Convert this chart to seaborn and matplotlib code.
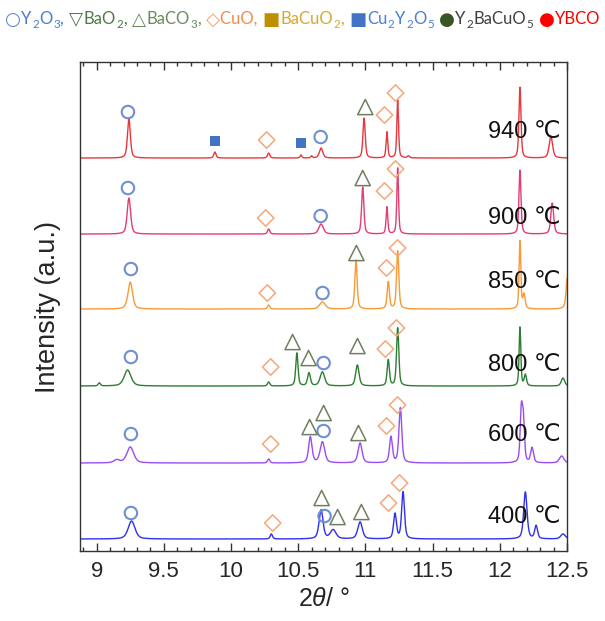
import numpy as np
import pandas as pd
import seaborn as sns
import matplotlib.pyplot as plt
from matplotlib.ticker import MultipleLocator, FormatStrFormatter
from matplotlib.transforms import IdentityTransform

# patterns, bottom to top
temps = ["400", "600", "800", "850", "900", "940"]
offsets = [12, 88, 165, 242, 317, 393]
line_colors = ["#2f2ff0", "#9a4cf2", "#2e7d32", "#f99a33", "#e43d6f", "#e8383d"]

# peak tables: 2theta, height above baseline, FWHM
pk_400 = [9.26, 10.30, 10.67, 10.76, 10.96, 11.22, 11.28, 12.19, 12.27, 12.47]
ht_400 = [18, 5, 29, 9, 17, 25, 47, 47, 13, 5]
wd_400 = [0.06, 0.02, 0.035, 0.05, 0.04, 0.025, 0.025, 0.03, 0.025, 0.04]

pk_600 = [9.15, 9.25, 10.28, 10.59, 10.68, 10.96, 11.19, 11.26, 12.16, 12.175, 12.24, 12.46]
ht_600 = [3, 16, 4, 26, 21, 20, 26, 55, 50, 40, 15, 7]
wd_600 = [0.05, 0.06, 0.02, 0.03, 0.04, 0.035, 0.025, 0.025, 0.02, 0.02, 0.025, 0.04]

pk_800 = [9.02, 9.23, 10.28, 10.49, 10.58, 10.68, 10.94, 11.17, 11.24, 12.15, 12.19, 12.47]
ht_800 = [3, 16, 4, 33, 13, 14, 21, 26, 58, 59, 11, 8]
wd_800 = [0.02, 0.06, 0.02, 0.02, 0.025, 0.04, 0.03, 0.02, 0.02, 0.015, 0.02, 0.03]

pk_850 = [9.25, 10.28, 10.68, 10.93, 11.17, 11.24, 12.15, 12.18, 12.505]
ht_850 = [27, 4, 7, 49, 27, 58, 68, 14, 35]
wd_850 = [0.04, 0.02, 0.05, 0.02, 0.02, 0.02, 0.015, 0.02, 0.025]

pk_900 = [9.24, 10.28, 10.67, 10.98, 11.16, 11.24, 12.15, 12.39]
ht_900 = [36, 5, 10, 47, 27, 66, 64, 31]
wd_900 = [0.03, 0.02, 0.04, 0.02, 0.015, 0.015, 0.018, 0.025]

pk_940 = [9.24, 9.88, 10.28, 10.52, 10.60, 10.67, 10.99, 11.16, 11.24, 11.32, 12.15, 12.38]
ht_940 = [40, 6, 5, 3, 2, 10, 40, 26, 58, 2, 71, 22]
wd_940 = [0.025, 0.02, 0.02, 0.015, 0.015, 0.03, 0.02, 0.015, 0.015, 0.02, 0.018, 0.03]

peak_tables = [(pk_400, ht_400, wd_400), (pk_600, ht_600, wd_600),
               (pk_800, ht_800, wd_800), (pk_850, ht_850, wd_850),
               (pk_900, ht_900, wd_900), (pk_940, ht_940, wd_940)]

# phase markers placed above the peaks
y2o3_x = [9.233, 10.667, 9.233, 10.667, 9.255, 10.681, 9.255, 10.689, 9.255, 10.689, 9.255, 10.696]
y2o3_y = [439, 414, 363, 335, 282, 258, 194, 188, 117, 120, 38, 35]
baco3_x = [10.999, 10.98, 10.933, 10.458, 10.577, 10.941, 10.585, 10.689, 10.948, 10.674, 10.793, 10.97]
baco3_y = [444, 373, 298, 209, 193, 205, 124, 138, 118, 53, 34, 39]
cuo_x = [10.265, 11.142, 11.224, 10.258, 11.142, 11.224, 10.27, 11.157, 11.239,
         10.295, 11.149, 11.231, 10.295, 11.157, 11.239, 10.31, 11.172, 11.254]
cuo_y = [411, 436, 458, 333, 360, 382, 258, 283, 303, 184, 202, 223, 107, 125, 146, 28, 48, 68]
cu2y2o5_x = [9.879, 10.518]
cu2y2o5_y = [410, 408]

label_y = [34, 116, 186, 269, 333, 419]

X_MIN, X_MAX = 8.876, 12.5

# build the profiles
grid = np.linspace(X_MIN, X_MAX, 2400)
frames = []
for temp, off, (pk, ht, wd) in zip(temps, offsets, peak_tables):
    y = np.full_like(grid, float(off))
    for p, h, w in zip(pk, ht, wd):
        u = (grid - p) / (w / 2)
        y += h * (0.5 / (1 + u ** 2) + 0.5 * np.exp(-np.log(2) * u ** 2))
    frames.append(pd.DataFrame({"two_theta": grid, "intensity": y, "temp": temp}))
df = pd.concat(frames, ignore_index=True)

sns.set_style("ticks")
plt.rcParams["font.family"] = ["Liberation Sans", "DejaVu Sans"]
plt.rcParams["mathtext.fontset"] = "custom"
plt.rcParams["mathtext.rm"] = "Liberation Sans"
plt.rcParams["mathtext.it"] = "Liberation Sans:italic"

fig = plt.figure(figsize=(6.05, 6.21), dpi=100)
ax = fig.add_axes([0.1322, 0.1127, 0.8050, 0.7874])

sns.lineplot(data=df, x="two_theta", y="intensity", hue="temp",
             palette=dict(zip(temps, line_colors)), estimator=None,
             linewidth=1.0, legend=False, ax=ax)

sns.scatterplot(x=y2o3_x, y=y2o3_y, marker="o", s=80, color="#6f8fd3",
                facecolor="none", edgecolor="#6f8fd3", linewidth=1.5, ax=ax, zorder=5)
sns.scatterplot(x=baco3_x, y=baco3_y, marker="^", s=120, color="#6f8060",
                facecolor="none", edgecolor="#6f8060", linewidth=1.1, ax=ax, zorder=5)
sns.scatterplot(x=cuo_x, y=cuo_y, marker="D", s=70, color="#f5a77c",
                facecolor="none", edgecolor="#f5a77c", linewidth=1.1, ax=ax, zorder=5)
sns.scatterplot(x=cu2y2o5_x, y=cu2y2o5_y, marker="s", s=55, color="#4472c4",
                edgecolor="#4472c4", linewidth=0, ax=ax, zorder=5)

for temp, ly in zip(temps, label_y):
    ax.text(12.455, ly, f"{temp} ℃", ha="right", va="center", fontsize=17,
            color="#111111", family=["Liberation Sans", "DejaVu Sans"])

ax.set_xlim(X_MIN, X_MAX)
ax.set_ylim(0, 489)
ax.set_yticks([])
ax.xaxis.set_major_locator(MultipleLocator(0.5))
ax.xaxis.set_minor_locator(MultipleLocator(0.1))
ax.xaxis.set_major_formatter(FormatStrFormatter("%g"))
ax.tick_params(axis="x", which="both", direction="in", top=True, bottom=True,
               color="#333333", width=1.0, labelsize=16, pad=7)
ax.tick_params(axis="x", which="major", length=6)
ax.tick_params(axis="x", which="minor", length=3)
for sp in ax.spines.values():
    sp.set_visible(True)
    sp.set_color("#333333")
    sp.set_linewidth(1.0)

ax.set_xlabel(r"2$\mathit{\theta}$/ °", fontsize=18, labelpad=4)
ax.set_ylabel("Intensity (a.u.)", fontsize=19.5, labelpad=14)

# phase legend across the top, built piece by piece
legend_parts = [
    ("○", "#5b86d4", False), ("Y", "#4a7bd0", False), ("2", "#4a7bd0", True),
    ("O", "#4a7bd0", False), ("3", "#4a7bd0", True), (", ", "#4a7bd0", False),
    ("▽", "#4f7a48", False), ("BaO", "#4f7a48", False), ("2", "#4f7a48", True),
    (", ", "#4f7a48", False),
    ("△", "#6a8a5f", False), ("BaCO", "#6a8a5f", False), ("3", "#6a8a5f", True),
    (", ", "#6a8a5f", False),
    ("◇", "#f4a070", False), ("CuO, ", "#f08a50", False),
    ("■", "#bf8f00", False), ("BaCuO", "#d4a930", False), ("2", "#d4a930", True),
    (", ", "#d4a930", False),
    ("■", "#4472c4", False), ("Cu", "#4a7fd6", False), ("2", "#4a7fd6", True),
    ("Y", "#4a7fd6", False), ("2", "#4a7fd6", True), ("O", "#4a7fd6", False),
    ("5", "#4a7fd6", True), (" ", "#4a7fd6", False),
    ("●", "#375623", False), ("Y", "#404040", False), ("2", "#404040", True),
    ("BaCuO", "#404040", False), ("5", "#404040", True), (" ", "#404040", False),
    ("●", "#ff0000", False), ("YBCO", "#ff0000", False),
]
glyphs = "○▽△◇■●"


def draw_legend(size):
    r = fig.canvas.get_renderer()
    xpos = 5.0
    base = 621 - 24
    made = []
    for s, col, sub in legend_parts:
        if s in glyphs:
            fs, dy, fam = size * 1.1, -size * 0.06, ["DejaVu Sans"]
        elif sub:
            fs, dy, fam = size * 0.7, -size * 0.3, ["Liberation Sans Narrow", "Lato", "DejaVu Sans"]
        else:
            fs, dy, fam = size, 0, ["Liberation Sans Narrow", "Lato", "DejaVu Sans"]
        t = fig.text(xpos, base + dy, s, color=col, fontsize=fs, family=fam,
                     transform=IdentityTransform(), ha="left", va="baseline")
        xpos += t.get_window_extent(r).width + 0.5
        made.append(t)
    return made, xpos - 5.0


parts, total = draw_legend(13)
for t in parts:
    t.remove()
draw_legend(13 * 595.0 / total)

fig.savefig("out.png", dpi=100)
